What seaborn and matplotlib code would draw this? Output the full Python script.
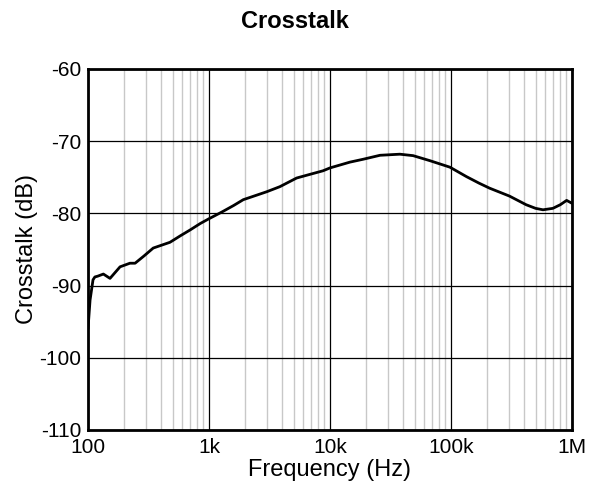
import matplotlib
matplotlib.use("Agg")
import matplotlib.pyplot as plt
import matplotlib.ticker as mticker
import seaborn as sns
import pandas as pd
import numpy as np

freq_hz = [100, 104, 110, 114, 120, 134, 152, 184, 222, 245, 290, 346, 476, 580, 697, 847, 984,
           1280, 1600, 1920, 2170, 3000, 3850, 5300, 6800, 8750, 10000, 14600, 18800, 25900,
           37800, 48600, 67000, 98000, 134000, 170000, 208000, 304000, 418000, 500000, 576000,
           695000, 800000, 903000, 1000000]
crosstalk_db = [-96.0, -92.0, -89.2, -88.8, -88.7, -88.4, -89.0, -87.4, -86.9, -86.9, -85.9,
                -84.8, -84.0, -83.1, -82.3, -81.4, -80.8, -79.8, -78.9, -78.1, -77.8, -77.0,
                -76.3, -75.1, -74.6, -74.1, -73.7, -72.9, -72.5, -71.95, -71.8, -72.0, -72.7,
                -73.6, -74.9, -75.8, -76.5, -77.6, -78.8, -79.3, -79.5, -79.3, -78.8, -78.2,
                -78.6]

x_ticks = [100, 1000, 10000, 100000, 1000000]
x_tick_labels = ["100", "1k", "10k", "100k", "1M"]
y_ticks = [-60, -70, -80, -90, -100, -110]

sns.set_theme(style="white")
plt.rcParams['font.family'] = ['Liberation Sans', 'DejaVu Sans']
plt.rcParams['text.color'] = 'black'
plt.rcParams['axes.labelcolor'] = 'black'

df = pd.DataFrame({"Frequency (Hz)": freq_hz, "Crosstalk (dB)": crosstalk_db})

fig = plt.figure(figsize=(5.9, 4.91), dpi=100)
ax = fig.add_axes([88/590, 61/491, (572-88)/590, (430-69)/491])

sns.lineplot(data=df, x="Frequency (Hz)", y="Crosstalk (dB)", ax=ax,
             color="black", linewidth=2.0, zorder=5)

ax.set_xscale("log")
ax.set_xlim(100, 1e6)
ax.set_ylim(-110, -60)
ax.set_xticks(x_ticks)
ax.set_xticklabels(x_tick_labels)
ax.set_yticks(y_ticks)
ax.set_yticklabels([str(v) for v in y_ticks])
ax.xaxis.set_minor_locator(mticker.LogLocator(base=10, subs=np.arange(2, 10)))
ax.xaxis.set_minor_formatter(mticker.NullFormatter())

ax.grid(True, which="minor", axis="x", color="#c8c8c8", linewidth=1.0)
ax.grid(True, which="major", axis="both", color="black", linewidth=0.9)
ax.set_axisbelow(True)

ax.tick_params(axis="y", which="both", length=0, labelsize=15, pad=5, colors="black")
ax.tick_params(axis="x", which="both", length=0, labelsize=15, pad=6, colors="black")
for s in ax.spines.values():
    s.set_color("black")
    s.set_linewidth(2.0)

ax.set_xlabel("Frequency (Hz)", fontsize=17, labelpad=1, color="black")
ax.set_ylabel("Crosstalk (dB)", fontsize=17, labelpad=1, color="black")
fig.suptitle("Crosstalk", fontsize=17, fontweight="bold", y=0.98, color="black")

fig.savefig("out.png", dpi=100)
